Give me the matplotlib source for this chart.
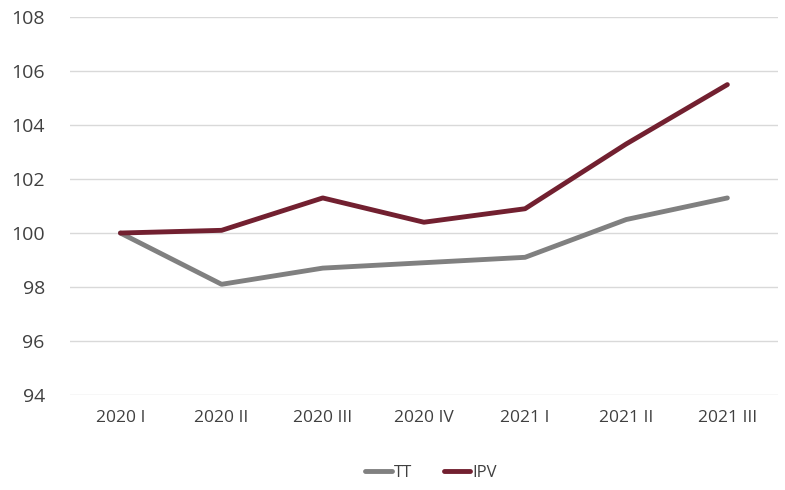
import matplotlib
matplotlib.use("Agg")
import matplotlib.pyplot as plt

plt.rcParams["font.family"] = ["Open Sans", "DejaVu Sans"]

categories = ["2020 I", "2020 II", "2020 III", "2020 IV", "2021 I", "2021 II", "2021 III"]
tt = [100.0, 98.1, 98.7, 98.9, 99.1, 100.5, 101.3]
ipv = [100.0, 100.1, 101.3, 100.4, 100.9, 103.3, 105.5]

fig = plt.figure(figsize=(7.85, 4.9), dpi=100)
ax = fig.add_axes([0.089, 0.194, 0.902, 0.771])

x = range(len(categories))
ax.plot(x, tt, color="#808080", lw=3.5, solid_capstyle="round", label="TT")
ax.plot(x, ipv, color="#722030", lw=3.5, solid_capstyle="round", label="IPV")

ax.set_xlim(-0.5, len(categories) - 0.5)
ax.set_ylim(94, 108)
ax.set_yticks(range(94, 109, 2))
ax.set_xticks(list(x))
ax.set_xticklabels(categories)

ax.grid(axis="y", color="#d9d9d9", lw=1)
ax.set_axisbelow(True)
for s in ax.spines.values():
    s.set_visible(False)
ax.tick_params(axis="both", length=0, colors="#404040")
ax.tick_params(axis="y", labelsize=14, pad=18)
ax.tick_params(axis="x", labelsize=12.5, pad=11)

ax.legend(loc="upper center", bbox_to_anchor=(0.51, -0.145), ncol=2, frameon=False,
          fontsize=12, handlelength=1.6, handletextpad=0.1, columnspacing=1.9,
          labelcolor="#404040")

fig.savefig("out.png", dpi=100)
